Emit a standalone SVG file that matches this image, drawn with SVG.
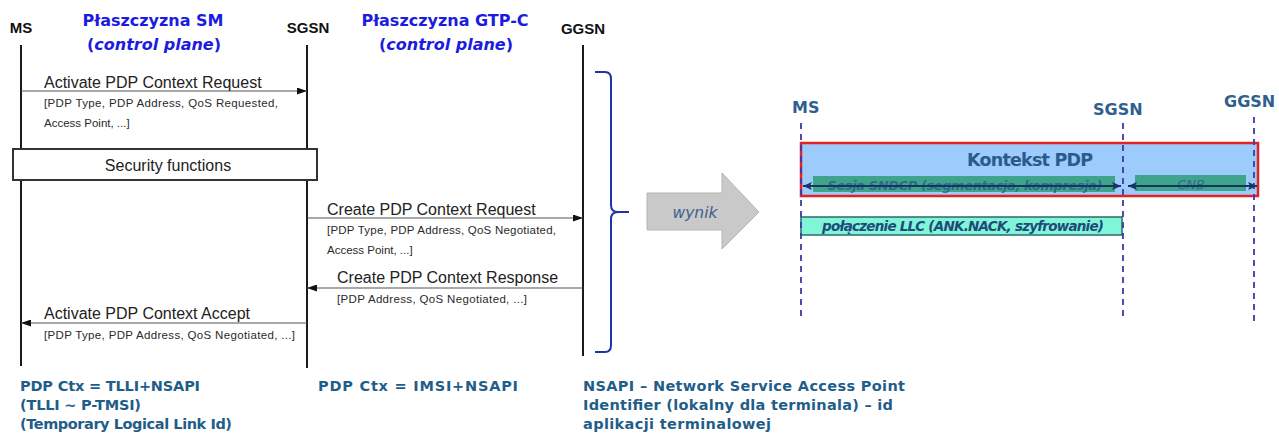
<svg xmlns="http://www.w3.org/2000/svg" width="1279" height="439" viewBox="0 0 1279 439">
<style>
.lbl{font-family:"Liberation Sans",Arial,sans-serif;font-weight:bold;font-size:15px;fill:#111}
.title{font-family:"DejaVu Sans",Verdana,sans-serif;font-weight:bold;font-size:16px;fill:#1c1ce0}
.msg{font-family:"Liberation Sans",Arial,sans-serif;font-size:16px;fill:#222}
.sub{font-family:"Liberation Sans",Arial,sans-serif;font-size:11.5px;fill:#2a2a2a}
.life{stroke:#1a1a1a;stroke-width:2;fill:none}
.arr{stroke:#555;stroke-width:1.2;fill:none}
.note{font-family:"DejaVu Sans",Verdana,sans-serif;font-weight:bold;font-size:14.5px;fill:#1f5e8a}
.rl{font-family:"DejaVu Sans",Verdana,sans-serif;font-weight:bold;font-size:16px;fill:#2f5f8f}
.dash{stroke:#3a3aa6;stroke-width:1.8;stroke-dasharray:6 5;fill:none}
.dbl{stroke:#17365f;stroke-width:2;fill:none}
</style>
<defs>
<marker id="ah" markerWidth="10" markerHeight="7" refX="10" refY="3.5" orient="auto" markerUnits="userSpaceOnUse"><path d="M0,0 L10,3.5 L0,7 z" fill="#111"/></marker>
<marker id="nh" markerWidth="9" markerHeight="8" refX="9" refY="4" orient="auto-start-reverse" markerUnits="userSpaceOnUse"><path d="M0,0 L9,4 L0,8 L2,4 z" fill="#17365f"/></marker>
</defs>
<rect width="1279" height="439" fill="#fff"/>

<g id="titles">
<text class="title" x="153" y="26" text-anchor="middle">Płaszczyzna SM</text>
<text class="title" x="154" y="50" text-anchor="middle">(<tspan font-style="italic">control plane</tspan>)</text>
<text class="title" x="445" y="26" text-anchor="middle">Płaszczyzna GTP-C</text>
<text class="title" x="446" y="50" text-anchor="middle">(<tspan font-style="italic">control plane</tspan>)</text>
</g>

<g id="node-ms">
<text class="lbl" x="21" y="33" text-anchor="middle">MS</text>
<line class="life" x1="21" y1="45" x2="21" y2="366"/>
</g>
<g id="node-sgsn">
<text class="lbl" x="308" y="33" text-anchor="middle">SGSN</text>
<line class="life" x1="307" y1="45" x2="307" y2="368"/>
</g>
<g id="node-ggsn">
<text class="lbl" x="583" y="34" text-anchor="middle">GGSN</text>
<line class="life" x1="583" y1="45" x2="583" y2="356"/>
</g>

<g id="node-security">
<rect x="13" y="149" width="304" height="31" fill="#fff" stroke="#333" stroke-width="2"/>
<text class="msg" x="168" y="171" text-anchor="middle">Security functions</text>
</g>

<g id="connectors">
<line class="arr" x1="21" y1="91" x2="307" y2="91" marker-end="url(#ah)"/>
<line class="arr" x1="307" y1="218" x2="583" y2="218" marker-end="url(#ah)"/>
<line class="arr" x1="583" y1="288" x2="307" y2="288" marker-end="url(#ah)"/>
<line class="arr" x1="307" y1="323" x2="21" y2="323" marker-end="url(#ah)"/>
</g>

<g id="messages">
<text class="msg" x="44" y="88">Activate PDP Context Request</text>
<text class="sub" x="44" y="107" textLength="234">[PDP Type, PDP Address, QoS Requested,</text>
<text class="sub" x="44" y="127">Access Point, ...]</text>
<text class="msg" x="327" y="215">Create PDP Context Request</text>
<text class="sub" x="327" y="234" textLength="229">[PDP Type, PDP Address, QoS Negotiated,</text>
<text class="sub" x="327" y="254">Access Point, ...]</text>
<text class="msg" x="337" y="283">Create PDP Context Response</text>
<text class="sub" x="337" y="303" textLength="190">[PDP Address, QoS Negotiated, ...]</text>
<text class="msg" x="44" y="319">Activate PDP Context Accept</text>
<text class="sub" x="44" y="339" textLength="251">[PDP Type, PDP Address, QoS Negotiated, ...]</text>
</g>

<g id="brace">
<path d="M595,72 L605,72 Q611,72 611,79 L611,205 Q611,212 618,212 L629,212 M618,212 Q611,212 611,219 L611,345 Q611,352 605,352 L595,352" fill="none" stroke="#2233aa" stroke-width="2"/>
</g>

<g id="node-wynik">
<polygon points="647,193 722,193 722,173 759,212 722,249 722,230 647,230" fill="#c9c9c9" stroke="#b5b5b5" stroke-width="1"/>
<text x="695" y="218" text-anchor="middle" font-family="DejaVu Sans, Verdana, sans-serif" font-style="italic" font-size="15.5" fill="#3b5f8e">wynik</text>
</g>

<g id="notes">
<text class="note" x="20" y="391" textLength="180">PDP Ctx = TLLI+NSAPI</text>
<text class="note" x="20" y="410" textLength="121">(TLLI ~ P-TMSI)</text>
<text class="note" x="20" y="429" textLength="212">(Temporary Logical Link Id)</text>
<text class="note" x="318" y="391" textLength="200">PDP Ctx = IMSI+NSAPI</text>
<text class="note" x="583" y="391" textLength="322">NSAPI – Network Service Access Point</text>
<text class="note" x="583" y="410" textLength="310">Identifier (lokalny dla terminala) – id</text>
<text class="note" x="583" y="429" textLength="188">aplikacji terminalowej</text>
</g>

<g id="node-pdp-context">
<rect x="801" y="143" width="457" height="53" fill="#9dcbfb" stroke="#e42222" stroke-width="2.5"/>
<text x="1030" y="166" text-anchor="middle" font-family="DejaVu Sans, Verdana, sans-serif" font-weight="bold" font-size="17.5" fill="#2b5a8c" textLength="126">Kontekst PDP</text>
</g>
<g id="node-sndcp">
<rect x="813" y="176" width="302" height="16" fill="#2f9e78" fill-opacity="0.85"/>
<text x="965" y="190" text-anchor="middle" font-family="DejaVu Sans, Verdana, sans-serif" font-style="italic" font-weight="bold" font-size="13" fill="#27588a" fill-opacity="0.75" textLength="275">Sesja SNDCP (segmentacja, kompresja)</text>
</g>
<g id="node-cnb">
<rect x="1135" y="175" width="111" height="16" fill="#2f9e78" fill-opacity="0.85"/>
<text x="1191" y="189" text-anchor="middle" font-family="DejaVu Sans, Verdana, sans-serif" font-style="italic" font-size="13" fill="#27588a" fill-opacity="0.75">CNB</text>
</g>
<g id="node-llc">
<rect x="801" y="217" width="321" height="18" fill="#80f5d8" stroke="#2a6a6a" stroke-width="1.5"/>
<text x="963" y="231" text-anchor="middle" font-family="DejaVu Sans, Verdana, sans-serif" font-style="italic" font-weight="bold" font-size="13.5" fill="#1f4a7a" textLength="282">połączenie LLC (ANK.NACK, szyfrowanie)</text>
</g>

<g id="right-nodes">
<g id="node-ms-r"><text class="rl" x="792" y="113">MS</text><line class="dash" x1="801" y1="123" x2="801" y2="320"/></g>
<g id="node-sgsn-r"><text class="rl" x="1093" y="115">SGSN</text><line class="dash" x1="1123" y1="123" x2="1123" y2="321"/></g>
<g id="node-ggsn-r"><text class="rl" x="1224" y="107">GGSN</text><line class="dash" x1="1254" y1="117" x2="1254" y2="322"/></g>
</g>

<g id="right-connectors">
<line class="dbl" x1="803" y1="186" x2="1121" y2="186" marker-start="url(#nh)" marker-end="url(#nh)"/>
<line class="dbl" x1="1128" y1="186" x2="1257" y2="186" marker-start="url(#nh)" marker-end="url(#nh)"/>
</g>
</svg>
